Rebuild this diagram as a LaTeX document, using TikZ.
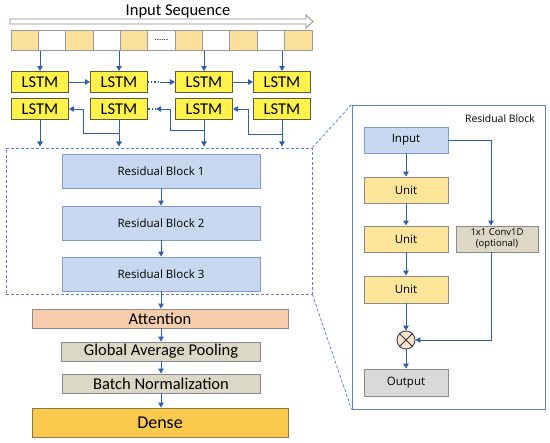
\documentclass[tikz,border=0pt]{standalone}
\usepackage{fontspec}
\setmainfont{Carlito}
\newfontfamily\osans{Open Sans}
\usetikzlibrary{arrows.meta}
\definecolor{arrblue}{HTML}{2F5FA8}
\definecolor{seqor}{HTML}{FBE09C}
\definecolor{seqbd}{HTML}{9A9A9A}
\definecolor{lstmfill}{HTML}{FFF24A}
\definecolor{lstmbd}{HTML}{5E5A3A}
\definecolor{rbfill}{HTML}{C7D8F0}
\definecolor{rbbd}{HTML}{7F9CCB}
\definecolor{attfill}{HTML}{F8CDAE}
\definecolor{tanfill}{HTML}{DDD8C6}
\definecolor{greybd}{HTML}{8A8A8A}
\definecolor{densefill}{HTML}{FBC94C}
\definecolor{densebd}{HTML}{8C7A45}
\definecolor{unitfill}{HTML}{FFE59A}
\definecolor{outfill}{HTML}{D9D9D9}
\definecolor{circfill}{HTML}{FBE3D2}
\definecolor{dashblue}{HTML}{5B84C6}
\begin{document}
\begin{tikzpicture}[x=1pt,y=-1pt,
  arr/.style={draw=arrblue, line width=0.95pt, -{Triangle[length=5pt,width=5.5pt]}},
  ln/.style={draw=arrblue, line width=0.95pt},
  cell/.style={draw=seqbd, line width=0.8pt, minimum width=27.36pt, minimum height=20pt, inner sep=0pt, outer sep=0pt},
  lstm/.style={draw=lstmbd, fill=lstmfill, line width=0.9pt, minimum width=57pt, minimum height=21pt, inner sep=0pt, font=\fontsize{16.5}{16.5}\selectfont},
  rb/.style={draw=rbbd, fill=rbfill, line width=0.9pt, minimum width=198pt, minimum height=34pt, inner sep=0pt, font=\osans\fontsize{11.5}{12}\selectfont},
  flat/.style={draw=greybd, line width=0.9pt, minimum height=19pt, inner sep=0pt, font=\fontsize{16.5}{16.5}\selectfont},
  pbox/.style={draw=greybd, line width=0.9pt, minimum width=84pt, minimum height=26pt, inner sep=0pt, font=\osans\fontsize{11.5}{12}\selectfont},
  dsh/.style={draw=dashblue, line width=0.8pt, dash pattern=on 3pt off 2pt}
]
\useasboundingbox (0,0) rectangle (550,443);

% title and hollow arrow
\node[font=\fontsize{16.5}{16.5}\selectfont, inner sep=0pt] (title) at (178,11) {Input Sequence};
\draw[draw=greybd, line width=0.8pt, fill=white] (10,19) -- (306,19) -- (306,15) -- (313,21.5) -- (306,28) -- (306,24) -- (10,24) -- cycle;

% sequence bar
\node[minimum width=301pt, minimum height=20pt, inner sep=0pt] (seq) at (161.5,40.5) {};
\foreach \i/\c in {0/seqor,1/white,2/seqor,3/white,4/seqor,5/white,6/seqor,7/white,8/seqor,9/white,10/seqor}{
  \node[cell, fill=\c] (c\i) at ({11+27.36*(\i+0.5)},40.5) {};
}
\node[inner sep=0pt, font=\fontsize{9}{9}\selectfont] (dots) at (c5.center) {\raisebox{0.3ex}{......}};

% LSTMs
\node[lstm] (l1a) at (40,82) {LSTM};
\node[lstm] (l1b) at (119,82) {LSTM};
\node[lstm] (l1c) at (204,82) {LSTM};
\node[lstm] (l1d) at (282,82) {LSTM};
\node[lstm] (l2a) at (40,109) {LSTM};
\node[lstm] (l2b) at (119,109) {LSTM};
\node[lstm] (l2c) at (204,109) {LSTM};
\node[lstm] (l2d) at (282,109) {LSTM};

\foreach \n in {l1a,l1b,l1c,l1d}{
  \draw[arr] (\n.north |- seq.south) -- (\n.north);
}
% forward row
\draw[arr] (l1a.east) -- (l1b.west);
\coordinate (f2) at (160,82);
\draw[draw=arrblue, line width=1.2pt, dotted] (l1b.east) -- (f2);
\draw[arr] (f2) -- (l1c.west);
\draw[arr] (l1c.east) -- (l1d.west);

% backward row
\coordinate (k1) at (83,133);
\coordinate (k2) at (170,130);
\coordinate (k3) at (248,134);
\coordinate (d2) at (156,109);
\draw[arr] (k1 -| l2b.south) -- (k1) |- (l2a.east);
\draw[arr] (k2 -| l2c.south) -- (k2) |- (d2);
\draw[draw=arrblue, line width=1.2pt, dotted] (d2) -- (l2b.east);
\draw[arr] (k3 -| l2d.south) -- (k3) |- (l2c.east);

% dashed box
\node[dsh, minimum width=306pt, minimum height=146pt, inner sep=0pt] (dbox) at (159,221) {};
\coordinate (dtop) at (0,146.5);
\foreach \n in {l2a,l2b,l2c,l2d}{
  \draw[arr] (\n.south) -- (\n.south |- dtop);
}

% residual blocks
\node[rb] (rb1) at (161,171) {Residual Block 1};
\node[rb] (rb2) at (161,223) {Residual Block 2};
\node[rb] (rb3) at (161,274) {Residual Block 3};
\draw[arr] (rb1.south) -- (rb2.north);
\draw[arr] (rb2.south) -- (rb3.north);

% head layers
\node[flat, fill=attfill, minimum width=256pt] (att) at (160,318.5) {Attention};
\node[flat, fill=tanfill, minimum width=199pt] (gap) at (161,351.5) {Global Average Pooling};
\node[flat, fill=tanfill, minimum width=198pt] (bn) at (161,383.5) {Batch Normalization};
\node[draw=densebd, fill=densefill, line width=0.9pt, minimum width=256pt, minimum height=29pt, inner sep=0pt, font=\fontsize{18}{18}\selectfont] (dense) at (160,422.5) {Dense};
\draw[arr] (rb3.south) -- (rb3.south |- att.north);
\draw[arr] (att.south -| rb3.south) -- (rb3.south |- gap.north);
\draw[arr] (gap.south -| rb3.south) -- (rb3.south |- bn.north);
\draw[arr] (bn.south -| rb3.south) -- (rb3.south |- dense.north);

% right panel
\node[draw=dashblue, line width=0.9pt, minimum width=193pt, minimum height=304pt, inner sep=0pt] (rbox) at (448.5,257) {};
\draw[dsh] (dbox.north east) -- (rbox.north west);
\draw[dsh] (dbox.south east) -- (rbox.south west);
\node[inner sep=0pt, font=\osans\fontsize{10.4}{11}\selectfont] (lbl) at (500,119) {Residual Block};
\node[pbox, draw=rbbd, fill=rbfill] (inp) at (406,140) {Input};
\node[pbox, fill=unitfill] (u1) at (406,190) {Unit};
\node[pbox, fill=unitfill] (u2) at (406,239) {Unit};
\node[pbox, fill=unitfill, minimum height=27pt] (u3) at (406,289.5) {Unit};
\node[circle, draw=black!80, line width=0.8pt, fill=circfill, minimum size=18pt, inner sep=0pt] (circ) at (406,340) {};
\draw[black!80, line width=0.9pt] (circ.45) -- (circ.225) (circ.135) -- (circ.315);
\node[pbox, fill=outfill, minimum height=27pt] (outp) at (406,382.5) {Output};
\node[pbox, fill=tanfill, minimum width=82pt, align=center, font=\osans\fontsize{9.5}{11}\selectfont] (conv) at (497,239) {1x1 Conv1D\\(optional)};

\draw[arr] (inp.south) -- (u1.north);
\draw[arr] (u1.south) -- (u2.north);
\draw[arr] (u2.south) -- (u3.north);
\draw[arr] (u3.south) -- (circ.north);
\draw[arr] (circ.south) -- (outp.north);
\draw[arr] (inp.east) -| ([xshift=-6pt]conv.north);
\draw[arr] ([xshift=-6pt]conv.south) |- (circ.east);
\end{tikzpicture}
\end{document}
